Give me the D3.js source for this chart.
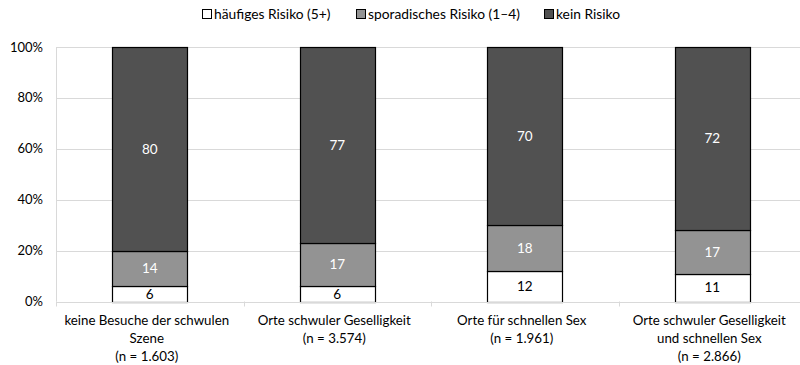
<!DOCTYPE html>
<html><head><meta charset="utf-8">
<script src="https://cdn.jsdelivr.net/npm/d3@7"></script>
<style>body{margin:0;background:#fff;} svg{display:block;font-family:Lato,"Open Sans",sans-serif;}</style>
</head><body>
<svg id="c" width="800" height="365"></svg>
<script>
const categories = [
  ["keine Besuche der schwulen", "Szene", "(n = 1.603)"],
  ["Orte schwuler Geselligkeit", "(n = 3.574)"],
  ["Orte für schnellen Sex", "(n = 1.961)"],
  ["Orte schwuler Geselligkeit", "und schnellen Sex", "(n = 2.866)"]
];
const seriesNames = ["häufiges Risiko (5+)", "sporadisches Risiko (1–4)", "kein Risiko"];
const haeufig = [6, 6, 12, 11];
const sporadisch = [14, 17, 18, 17];
const kein = [80, 77, 70, 72];
const yTicks = [0, 20, 40, 60, 80, 100];
const colors = ["#ffffff", "#939393", "#515151"];
const textColors = ["#000000", "#ffffff", "#ffffff"];

const svg = d3.select("#c");
const m = {l: 56, r: 806, t: 47, b: 301.5};
const x = d3.scaleBand().domain(d3.range(categories.length)).range([m.l, m.r]).paddingInner(0.6).paddingOuter(0.3);
const xb = d3.scaleBand().domain(d3.range(categories.length)).range([m.l, m.r]);
const y = d3.scaleLinear().domain([0, 100]).range([m.b, m.t]);

// gridlines
svg.append("g").selectAll("line").data(yTicks).join("line")
  .attr("x1", m.l).attr("x2", m.r)
  .attr("y1", d => Math.round(y(d)) + 0.5).attr("y2", d => Math.round(y(d)) + 0.5)
  .attr("stroke", "#d9d9d9").attr("stroke-width", 1);
// left axis line
svg.append("line").attr("x1", m.l + 0.5).attr("x2", m.l + 0.5).attr("y1", y(100)).attr("y2", y(0))
  .attr("stroke", "#d9d9d9");

// y labels
svg.append("g").selectAll("text").data(yTicks).join("text")
  .attr("x", 43).attr("y", d => y(d)).attr("dy", "0.35em")
  .attr("text-anchor", "end").attr("font-size", 13).attr("fill", "#000")
  .text(d => d + "%");

// stacks
const rows = categories.map((c, i) => ({i, v: [haeufig[i], sporadisch[i], kein[i]]}));
const segs = [];
rows.forEach(r => { let acc = 0; r.v.forEach((v, k) => { segs.push({i: r.i, k, y0: acc, y1: acc + v, v}); acc += v; }); });

svg.append("g").selectAll("rect").data(segs).join("rect")
  .attr("x", d => Math.round(x(d.i)) + 0.5)
  .attr("width", Math.round(x.bandwidth()))
  .attr("y", d => Math.round(y(d.y1)) + 0.5)
  .attr("height", d => Math.round(y(d.y0)) - Math.round(y(d.y1)))
  .attr("fill", d => colors[d.k]).attr("stroke", "#000").attr("stroke-width", 1.2);

svg.append("g").selectAll("text").data(segs).join("text")
  .attr("x", d => x(d.i) + x.bandwidth() / 2)
  .attr("y", d => y((d.y0 + d.y1) / 2)).attr("dy", "0.35em")
  .attr("text-anchor", "middle").attr("font-size", 13.5)
  .attr("fill", d => textColors[d.k]).text(d => d.v);

// x axis baseline and ticks
svg.append("line").attr("x1", m.l).attr("x2", m.r).attr("y1", Math.round(y(0)) + 0.5).attr("y2", Math.round(y(0)) + 0.5)
  .attr("stroke", "#d9d9d9");
svg.append("g").selectAll("line").data(d3.range(categories.length + 1)).join("line")
  .attr("x1", d => Math.round(m.l + d * xb.bandwidth()) + 0.5)
  .attr("x2", d => Math.round(m.l + d * xb.bandwidth()) + 0.5)
  .attr("y1", y(0)).attr("y2", y(0) + 5).attr("stroke", "#d9d9d9");

// x labels
const xl = svg.append("g").selectAll("text").data(categories).join("text")
  .attr("text-anchor", "middle").attr("font-size", 13.3).attr("fill", "#000")
  .attr("transform", (d, i) => `translate(${xb(i) + xb.bandwidth() / 2 - 3},${325})`);
xl.selectAll("tspan").data(d => d).join("tspan")
  .attr("x", 0).attr("y", (d, j) => j * 18).text(d => d);

// legend
const legX = [202, 356, 544];
const lg = svg.append("g").selectAll("g").data(seriesNames).join("g")
  .attr("transform", (d, i) => `translate(${legX[i]},9)`);
lg.append("rect").attr("x", 0.5).attr("y", 0.5).attr("width", 9).attr("height", 9)
  .attr("fill", (d, i) => colors[i]).attr("stroke", "#000");
lg.append("text").attr("x", 12).attr("y", 5).attr("dy", "0.35em")
  .attr("font-size", 13.8).attr("fill", "#000").text(d => d);
</script>
</body></html>
